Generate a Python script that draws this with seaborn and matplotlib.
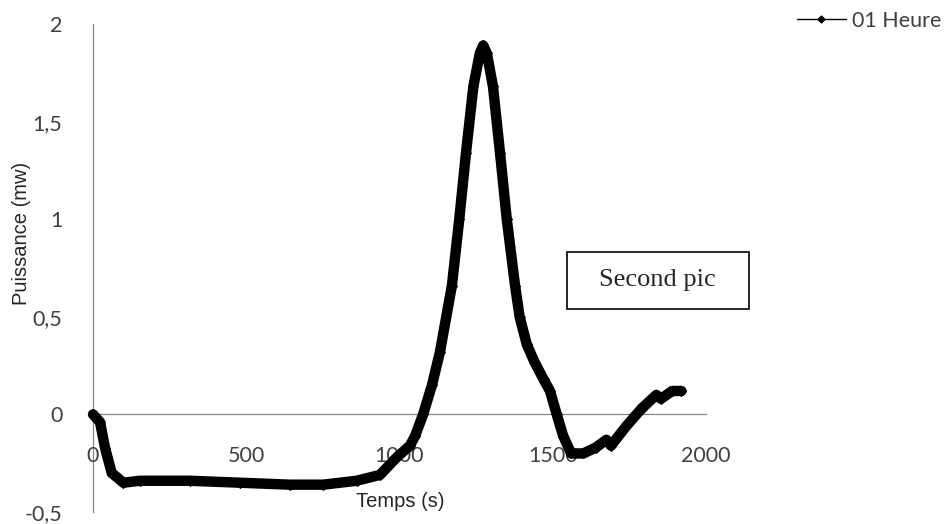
import seaborn as sns
import matplotlib.pyplot as plt
from matplotlib.lines import Line2D
from matplotlib.patches import Rectangle

# data
temps = [0, 23, 39, 61, 99, 153, 316, 480, 643, 751, 860, 936, 991, 1034,
         1051, 1077, 1106, 1132, 1171, 1195, 1217, 1241, 1262, 1273, 1285,
         1305, 1328, 1350, 1377, 1392, 1415, 1440, 1470, 1491, 1513, 1534,
         1560, 1600, 1640, 1675, 1690, 1740, 1790, 1838, 1853, 1890, 1920]
puissance = [0.0, -0.04, -0.17, -0.30, -0.35, -0.34, -0.34, -0.35, -0.36,
             -0.36, -0.34, -0.31, -0.22, -0.16, -0.11, 0.0, 0.15, 0.32, 0.66,
             1.0, 1.34, 1.68, 1.85, 1.89, 1.85, 1.68, 1.34, 1.0, 0.66, 0.50,
             0.36, 0.27, 0.18, 0.12, 0.0, -0.11, -0.20, -0.20, -0.17, -0.13,
             -0.16, -0.06, 0.03, 0.10, 0.08, 0.12, 0.12]
x_ticks = [0, 500, 1000, 1500, 2000]
y_ticks = [-0.5, 0, 0.5, 1, 1.5, 2]
y_labels = ['-0,5', '0', '0,5', '1', '1,5', '2']

sns.set_style('white')
grey = '#868686'

fig = plt.figure(figsize=(9.53, 5.24), dpi=100)
ax = fig.add_axes([0.0976, 0.0229, 0.6432, 0.9313])

sns.lineplot(x=temps, y=puissance, ax=ax, color='black', lw=7.5,
             marker='D', markersize=5, markeredgecolor='black',
             estimator=None, sort=False,
             solid_joinstyle='round', solid_capstyle='round', clip_on=False)

ax.set_xlim(0, 2000)
ax.set_ylim(-0.5, 2)
ax.spines['bottom'].set_position(('data', 0))
ax.spines['top'].set_visible(False)
ax.spines['right'].set_visible(False)
for s in ['left', 'bottom']:
    ax.spines[s].set_color(grey)
    ax.spines[s].set_linewidth(0.9)
    ax.spines[s].set_zorder(0)

ax.set_xticks(x_ticks)
ax.set_xticklabels([str(t) for t in x_ticks], family='Lato', fontsize=15.5,
                   color='#404040')
ax.set_yticks(y_ticks)
ax.set_yticklabels(y_labels, family='Lato', fontsize=15.5, color='#404040')
ax.tick_params(axis='x', direction='out', length=6, width=0.9, color=grey, pad=17)
ax.tick_params(axis='y', direction='out', length=6, width=0.9, color=grey, pad=16)

ax.set_xlabel('Temps (s)', family='Liberation Sans', fontsize=14.5, va='center')
ax.xaxis.set_label_coords(0.502, 0.0205)
ax.set_ylabel('Puissance (mw)', family='Liberation Sans', fontsize=14.5, va='center')
ax.yaxis.set_label_coords(-0.116, 0.570)

# legend outside, top right
h = Line2D([], [], color='black', lw=1, marker='D', markersize=3.5)
fig.legend(handles=[h], labels=['01 Heure'], loc='center left',
           bbox_to_anchor=(0.836, 0.96), frameon=False, handlelength=2.3,
           handletextpad=0.25, borderpad=0, borderaxespad=0,
           prop={'family': 'Lato', 'size': 15.5}, labelcolor='#404040')

# annotation box
fig.add_artist(Rectangle((0.595, 0.410), 0.191, 0.109, transform=fig.transFigure,
                         facecolor='white', edgecolor='black', lw=1.2))
fig.text(0.690, 0.465, 'Second pic', family='Liberation Serif', fontsize=19,
         ha='center', va='center')

fig.savefig('out.png', dpi=100)
